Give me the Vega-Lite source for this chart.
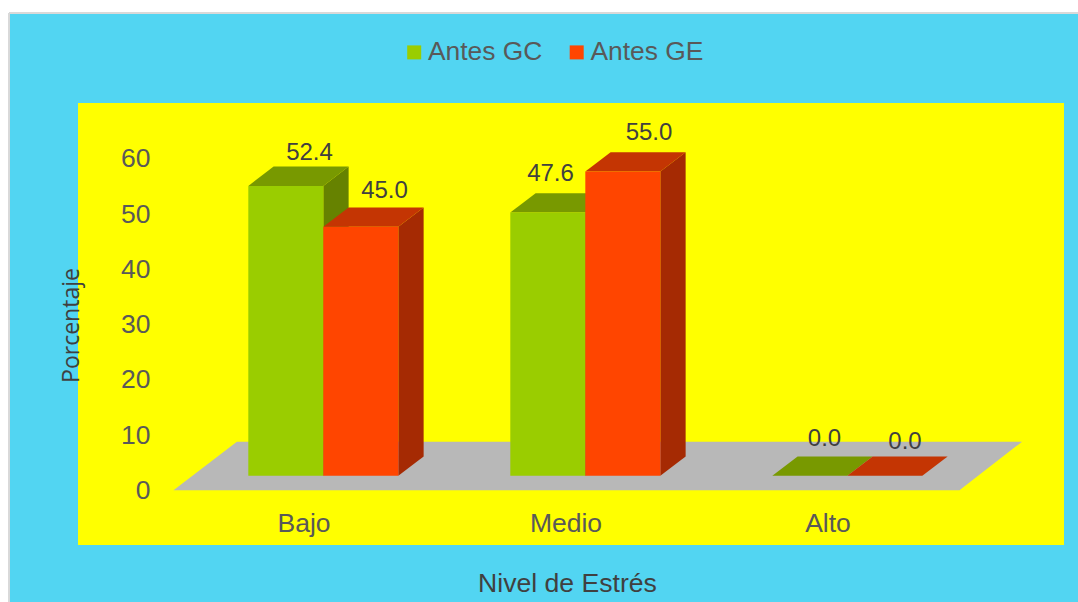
{"$schema":"https://vega.github.io/schema/vega-lite/v6.json","width":1069,"height":589,"autosize":{"type":"none"},"padding":{"left":9,"top":13,"right":0,"bottom":0},"background":"#ffffff","view":{"fill":"#52D5F2","stroke":null},"config":{"font":"Liberation Sans"},"data":{"values":[{"nivel":"Bajo","grupo":"Antes GC","valor":52.4},{"nivel":"Bajo","grupo":"Antes GE","valor":45.0},{"nivel":"Medio","grupo":"Antes GC","valor":47.6},{"nivel":"Medio","grupo":"Antes GE","valor":55.0},{"nivel":"Alto","grupo":"Antes GC","valor":0.0},{"nivel":"Alto","grupo":"Antes GE","valor":0.0}]},"transform":[{"calculate":"indexof(['Bajo','Medio','Alto'],datum.nivel)+1+(datum.grupo==='Antes GC'?-0.2164:0.0699)","as":"x0"},{"calculate":"datum.x0+0.2863","as":"x1"},{"calculate":"2.64","as":"yBase"},{"calculate":"2.64+datum.valor","as":"yTop"},{"calculate":"datum.nivel+'|'+datum.grupo","as":"barra"}],"layer":[{"data":{"values":[{"x":0.1336,"x2":3.897,"y":-9.89,"y2":70.03}]},"mark":{"type":"rect","fill":"#FFFF00"},"encoding":{"x":{"field":"x","type":"quantitative","scale":{"domain":[-0.1298,3.9504],"nice":false,"zero":false},"axis":{"values":[1,2,3],"labelExpr":"datum.value===1?'Bajo':datum.value===2?'Medio':'Alto'","orient":"bottom","offset":-79,"grid":false,"domain":false,"ticks":false,"labelPadding":0,"labelOffset":-1.5,"labelFontSize":26.5,"labelColor":"#595959","labelFont":"Liberation Sans","labelBaseline":"middle","labelFlush":false,"labelOverlap":false,"title":"Nivel de Estrés","titleFont":"Liberation Sans","titleFontWeight":"normal","titleFontSize":26.6,"titleColor":"#404040","titleX":558,"titleY":60,"titleBaseline":"middle","titleAlign":"center","zindex":1}},"x2":{"field":"x2"},"y":{"field":"y","type":"quantitative","scale":{"domain":[-20.2,86.31],"nice":false,"zero":false},"axis":{"values":[0,10,20,30,40,50,60],"orient":"left","offset":-141,"grid":false,"domain":false,"ticks":false,"labelPadding":0,"labelOffset":0.3,"labelFontSize":26.5,"labelColor":"#595959","labelFont":"Liberation Sans","labelOverlap":false,"title":"Porcentaje","titleFont":"Open Sans","titleFontWeight":"normal","titleFontSize":23,"titleColor":"#404040","titleX":-79,"titleY":312,"titleBaseline":"middle","titleAlign":"center","titleAngle":-90,"zindex":1}},"y2":{"field":"y2"}}},{"data":{"values":[{"y":0,"desde":0.498,"hasta":3.498},{"y":8.79,"desde":0.74,"hasta":3.737}]},"mark":{"type":"area","orient":"horizontal","fill":"#B8B8B8"},"encoding":{"x":{"field":"desde","type":"quantitative","scale":{"domain":[-0.1298,3.9504],"nice":false,"zero":false}},"x2":{"field":"hasta"},"y":{"field":"y","type":"quantitative","scale":{"domain":[-20.2,86.31],"nice":false,"zero":false}}}},{"transform":[{"calculate":"[0,1]","as":"t"},{"flatten":["t"]},{"calculate":"datum.x1+datum.t*0.0966","as":"sx"},{"calculate":"datum.yTop+datum.t*3.49","as":"sy"},{"calculate":"datum.yBase+datum.t*3.49","as":"sy2"}],"mark":{"type":"area","orient":"vertical"},"encoding":{"detail":{"field":"barra"},"x":{"field":"sx","type":"quantitative","scale":{"domain":[-0.1298,3.9504],"nice":false,"zero":false}},"y":{"field":"sy","type":"quantitative","scale":{"domain":[-20.2,86.31],"nice":false,"zero":false}},"y2":{"field":"sy2"},"fill":{"condition":{"test":"datum.grupo==='Antes GC'","value":"#668200"},"value":"#A52A03"}}},{"transform":[{"calculate":"[0,1]","as":"t"},{"flatten":["t"]},{"calculate":"datum.x0+datum.t*0.0966","as":"tx"},{"calculate":"datum.x1+datum.t*0.0966","as":"tx2"},{"calculate":"datum.yTop+datum.t*3.49","as":"ty"}],"mark":{"type":"area","orient":"horizontal"},"encoding":{"detail":{"field":"barra"},"x":{"field":"tx","type":"quantitative","scale":{"domain":[-0.1298,3.9504],"nice":false,"zero":false}},"x2":{"field":"tx2"},"y":{"field":"ty","type":"quantitative","scale":{"domain":[-20.2,86.31],"nice":false,"zero":false}},"fill":{"condition":{"test":"datum.grupo==='Antes GC'","value":"#789900"},"value":"#C43503"}}},{"mark":{"type":"rect"},"encoding":{"x":{"field":"x0","type":"quantitative","scale":{"domain":[-0.1298,3.9504],"nice":false,"zero":false}},"x2":{"field":"x1"},"y":{"field":"yTop","type":"quantitative","scale":{"domain":[-20.2,86.31],"nice":false,"zero":false}},"y2":{"field":"yBase"},"fill":{"field":"grupo","type":"nominal","scale":{"domain":["Antes GC","Antes GE"],"range":["#9ACD00","#FF4500"]},"legend":{"orient":"none","legendX":392,"legendY":26,"direction":"horizontal","columns":2,"title":null,"symbolType":"square","symbolSize":196,"symbolStrokeWidth":0,"labelFontSize":26.4,"labelColor":"#595959","labelFont":"Liberation Sans","labelOffset":0.5,"columnPadding":20.5,"labelLimit":300,"padding":0}}}},{"transform":[{"calculate":"{'Bajo|Antes GC':23.7,'Bajo|Antes GE':23.7,'Medio|Antes GC':2.7,'Medio|Antes GE':26.2,'Alto|Antes GC':14.7,'Alto|Antes GE':20.2}[datum.barra]","as":"ldx"},{"calculate":"{'Bajo|Antes GC':13.6,'Bajo|Antes GE':16.6,'Medio|Antes GC':19.2,'Medio|Antes GE':19.7,'Alto|Antes GC':17.4,'Alto|Antes GE':14.4}[datum.barra]","as":"ldy"},{"calculate":"datum.x0+0.14315+datum.ldx/262","as":"lx"},{"calculate":"datum.yTop+3.49+datum.ldy/5.53","as":"ly"}],"mark":{"type":"text","fontSize":24,"font":"Liberation Sans","color":"#404040","baseline":"middle","align":"center"},"encoding":{"x":{"field":"lx","type":"quantitative","scale":{"domain":[-0.1298,3.9504],"nice":false,"zero":false}},"y":{"field":"ly","type":"quantitative","scale":{"domain":[-20.2,86.31],"nice":false,"zero":false}},"text":{"field":"valor","type":"quantitative","format":".1f"}}},{"data":{"values":[{"borde":-0.1298}]},"mark":{"type":"rule","color":"#D9D9D9","strokeWidth":2},"encoding":{"x":{"field":"borde","type":"quantitative","scale":{"domain":[-0.1298,3.9504],"nice":false,"zero":false}}}},{"data":{"values":[{"borde":86.31}]},"mark":{"type":"rule","color":"#D9D9D9","strokeWidth":2},"encoding":{"y":{"field":"borde","type":"quantitative","scale":{"domain":[-20.2,86.31],"nice":false,"zero":false}}}}]}
